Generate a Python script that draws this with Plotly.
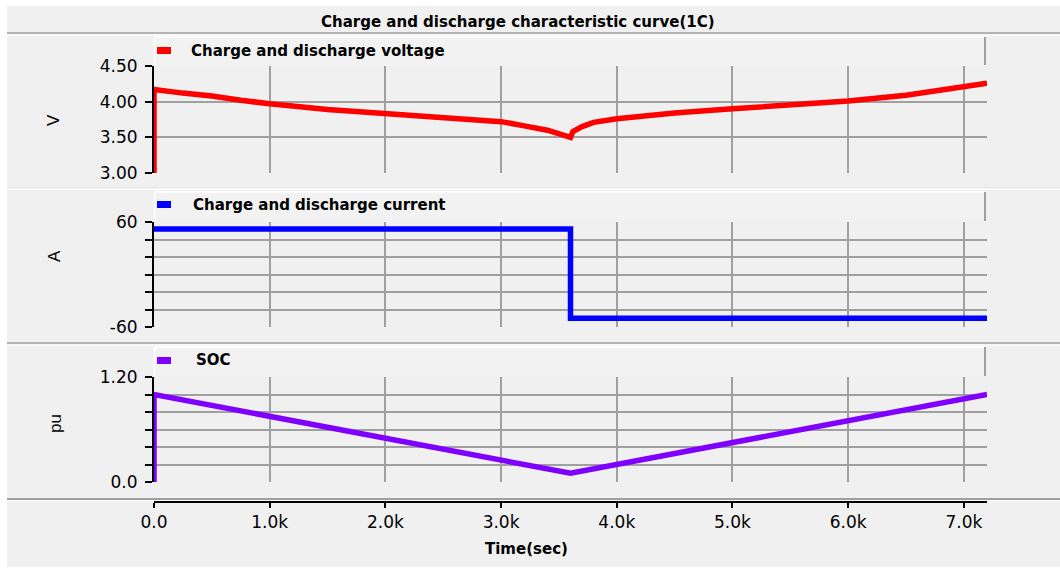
import plotly.graph_objects as go

# ---------------- data ----------------
volt_t = [0, 0, 250, 500, 750, 1000, 1500, 2000, 2500, 2750, 3000, 3200, 3400, 3600,
          3620, 3700, 3800, 4000, 4500, 5000, 5500, 6000, 6500, 7000, 7200]
volt_v = [0.0, 4.17, 4.12, 4.08, 4.02, 3.97, 3.89, 3.83, 3.78, 3.75, 3.72, 3.66, 3.60, 3.50,
          3.58, 3.65, 3.71, 3.76, 3.84, 3.90, 3.95, 4.01, 4.09, 4.20, 4.26]

curr_t = [0, 3600, 7200]
curr_v = [52, -50, -50]

soc_t = [0, 0, 3600, 7200]
soc_v = [0.0, 1.0, 0.10, 1.0]

x_ticks = [0, 1000, 2000, 3000, 4000, 5000, 6000, 7000]
x_ticktext = ["0.0", "1.0k", "2.0k", "3.0k", "4.0k", "5.0k", "6.0k", "7.0k"]

v_ticks = [3.0, 3.5, 4.0, 4.5]
v_ticktext = ["3.00", "3.50", "4.00", "4.50"]
a_ticks = [-60, -40, -20, 0, 20, 40, 60]
a_ticktext = ["-60", "", "", "", "", "", "60"]
pu_ticks = [0.0, 0.2, 0.4, 0.6, 0.8, 1.0, 1.2]
pu_ticktext = ["0.0", "", "", "", "", "", "1.20"]

title_text = "Charge and discharge characteristic curve(1C)"
series_names = ["Charge and discharge voltage", "Charge and discharge current", "SOC"]
series_colors = ["#ff0000", "#0000ff", "#7f00ff"]
y_titles = ["V", "A", "pu"]
x_title = "Time(sec)"

# ---------------- geometry helpers ----------------
W, H = 1060, 569
def X(px):
    return px / W
def Y(py):
    return 1 - py / H

GRID = "#a0a0a0"
BG = "#f0f0f0"
TICKFONT = dict(family="DejaVu Sans", size=17, color="#000000")
BOLDFONT = dict(family="DejaVu Sans", size=15, color="#000000", weight="bold")
LW = 5.5

xdom = [X(154), X(987)]
panels = [(66, 173), (222, 327), (377, 482)]

fig = go.Figure()

fig.add_trace(go.Scatter(x=volt_t, y=volt_v, mode="lines", line=dict(color=series_colors[0], width=LW),
                         xaxis="x", yaxis="y", showlegend=False))
fig.add_trace(go.Scatter(x=curr_t, y=curr_v, mode="lines", line=dict(color=series_colors[1], width=LW, shape="hv"),
                         xaxis="x2", yaxis="y2", showlegend=False))
fig.add_trace(go.Scatter(x=soc_t, y=soc_v, mode="lines", line=dict(color=series_colors[2], width=LW),
                         xaxis="x3", yaxis="y3", showlegend=False))

common_x = dict(range=[0, 7200], domain=xdom, showgrid=True, gridcolor=GRID, gridwidth=2,
                tickvals=x_ticks, zeroline=False, fixedrange=True, automargin=False)
common_y = dict(showgrid=True, gridcolor=GRID, gridwidth=2, zeroline=False, showline=True,
                linecolor="#000000", linewidth=2, ticks="outside", ticklen=7, tickwidth=2,
                tickcolor="#000000", tickfont=TICKFONT, ticklabelstandoff=4, fixedrange=True,
                automargin=False)

layout = dict(
    width=W, height=H, autosize=False,
    margin=dict(l=0, r=0, t=0, b=0, pad=0, autoexpand=False),
    paper_bgcolor="#ffffff", plot_bgcolor="#ffffff", showlegend=False,
    xaxis=dict(common_x, anchor="y", showticklabels=False, ticks=""),
    xaxis2=dict(common_x, anchor="y2", showticklabels=False, ticks=""),
    xaxis3=dict(common_x, anchor="free", position=Y(502), showticklabels=True, ticktext=x_ticktext,
                ticks="outside", ticklen=5, tickwidth=2, tickcolor="#000000", showline=True,
                linecolor="#000000", linewidth=2, tickfont=TICKFONT, ticklabelstandoff=0),
    yaxis=dict(common_y, domain=[Y(panels[0][1]), Y(panels[0][0])], range=[3.0, 4.5], anchor="x",
               tickvals=v_ticks, ticktext=v_ticktext),
    yaxis2=dict(common_y, domain=[Y(panels[1][1]), Y(panels[1][0])], range=[-60, 60], anchor="x2",
                tickvals=a_ticks, ticktext=a_ticktext),
    yaxis3=dict(common_y, domain=[Y(panels[2][1]), Y(panels[2][0])], range=[0, 1.2], anchor="x3",
                tickvals=pu_ticks, ticktext=pu_ticktext),
)
fig.update_layout(**layout)

shapes = []
# overall gray panel
shapes.append(dict(type="rect", xref="paper", yref="paper", x0=X(7), x1=X(1060), y0=Y(567), y1=Y(6),
                   fillcolor=BG, line=dict(width=0), layer="below"))
# separators
for py, col, w in [(33, GRID, 1.5), (35, "#ffffff", 1), (188, "#d8d8d8", 1), (189, "#ffffff", 1.5),
                   (343, GRID, 1.5), (345, "#ffffff", 1), (499, GRID, 2), (501, "#ffffff", 1)]:
    shapes.append(dict(type="line", xref="paper", yref="paper", x0=X(7), x1=X(1060), y0=Y(py), y1=Y(py),
                       line=dict(color=col, width=w), layer="below"))
# legend header boxes
headers = [(37, 65), (192, 221), (347, 376)]
for (t, b) in headers:
    shapes.append(dict(type="rect", xref="paper", yref="paper", x0=X(154), x1=X(985), y0=Y(b), y1=Y(t),
                       fillcolor="#f2f2f2", line=dict(width=0), layer="below"))
    shapes.append(dict(type="line", xref="paper", yref="paper", x0=X(154), x1=X(985), y0=Y(t), y1=Y(t),
                       line=dict(color="#ffffff", width=1.5), layer="below"))
    shapes.append(dict(type="line", xref="paper", yref="paper", x0=X(154.5), x1=X(154.5), y0=Y(b), y1=Y(t),
                       line=dict(color="#ffffff", width=1.5), layer="below"))
    shapes.append(dict(type="line", xref="paper", yref="paper", x0=X(985), x1=X(985), y0=Y(b), y1=Y(t),
                       line=dict(color=GRID, width=2), layer="below"))
# legend swatches
swatches = [(47, 54), (201, 208), (357, 364)]
for (t, b), c in zip(swatches, series_colors):
    shapes.append(dict(type="rect", xref="paper", yref="paper", x0=X(157), x1=X(171), y0=Y(b), y1=Y(t),
                       fillcolor=c, line=dict(width=0)))
fig.update_layout(shapes=shapes)

ann = []
ann.append(dict(text=title_text, x=X(518), y=Y(22), xref="paper", yref="paper", showarrow=False,
                xanchor="center", yanchor="middle", font=BOLDFONT))
legend_pos = [(189, 51), (191, 205), (194, 360)]
for (px, py), name in zip(legend_pos, series_names):
    ann.append(dict(text=name, x=X(px), y=Y(py), xref="paper", yref="paper", showarrow=False,
                    xanchor="left", yanchor="middle", font=BOLDFONT))
ytitle_pos = [(53, 120), (55, 256), (55, 424)]
for (px, py), t in zip(ytitle_pos, y_titles):
    ann.append(dict(text=t, x=X(px), y=Y(py), xref="paper", yref="paper", showarrow=False,
                    xanchor="center", yanchor="middle", textangle=-90,
                    font=dict(family="Liberation Sans", size=17, color="#000000")))
ann.append(dict(text=x_title, x=X(526), y=Y(549), xref="paper", yref="paper", showarrow=False,
                xanchor="center", yanchor="middle", font=BOLDFONT))
fig.update_layout(annotations=ann)

fig.write_html("out.html", config={"displayModeBar": False, "responsive": False})
